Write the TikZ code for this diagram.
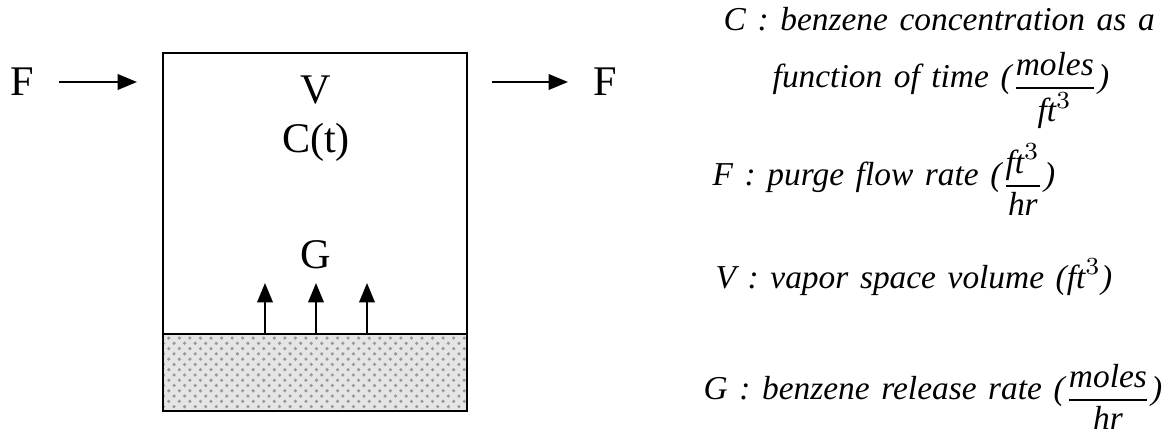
\documentclass[tikz,border=0pt]{standalone}
\usepackage{fontspec}
\usepackage{amsmath}
\setmainfont{Liberation Serif}
\usetikzlibrary{arrows.meta,positioning,patterns}
\newcommand{\keyfont}{\fontsize{9.5}{11}\selectfont\itshape\spaceskip=3.3pt plus 1pt\relax}
\newcommand{\unitfrac}[2]{\raisebox{-2.5pt}{$\dfrac{\textit{#1}}{\textit{#2}}$}}

\begin{document}
\begin{tikzpicture}[x=0.01cm,y=-0.01cm,>={Triangle[length=5.5pt,width=4.4pt]},
  lbl/.style={font=\fontsize{12}{14}\selectfont,inner sep=0pt},
  key/.style={font=\keyfont,inner sep=0pt,anchor=base west},
  flow/.style={->,line width=0.6pt}]
\useasboundingbox (0,0) rectangle (1167,433);
% tank with liquid
\node[draw,line width=0.6pt,minimum width=3.04cm,minimum height=3.58cm,inner sep=0pt] (tank) at (315,232) {};
\node[draw,line width=0.6pt,minimum width=3.04cm,minimum height=0.77cm,inner sep=0pt,anchor=south,
  preaction={fill=gray!20},pattern=crosshatch dots,pattern color=gray!80] (liq) at (tank.south) {};
\node[lbl] (vol) at (316,90) {V};
\node[lbl] (conc) at (316,142) {C(t)};
\node[lbl] (rel) at (316,255) {G};
% release arrows
\foreach \i/\x in {1/265,2/316,3/367}{
  \coordinate (s\i) at (\x,334);
  \coordinate (t\i) at (\x,283);
  \draw[flow] (s\i) -- (t\i);
}
% purge in and out
\node[lbl] (fin) at (22,82) {F};
\coordinate (a1) at (59,82);
\coordinate (a2) at (137,82);
\draw[flow] (a1) -- (a2);
\coordinate (b1) at (492,82);
\coordinate (b2) at (568,82);
\draw[flow] (b1) -- (b2);
\node[lbl] (fout) at (605,82) {F};
% legend
\node[key] (kc) at (723,30) {C : benzene concentration as a};
\node[key] (kc2) at (772,87) {function of time (\unitfrac{moles}{ft$^{3}$})};
\node[key] (kf) at (712,185) {F : purge flow rate (\unitfrac{ft$^{3}$}{hr})};
\node[key] (kv) at (715,288) {V : vapor space volume (\textit{ft}$^{3}$)};
\node[key] (kg) at (703,399) {G : benzene release rate (\unitfrac{moles}{hr})};
\end{tikzpicture}
\end{document}
